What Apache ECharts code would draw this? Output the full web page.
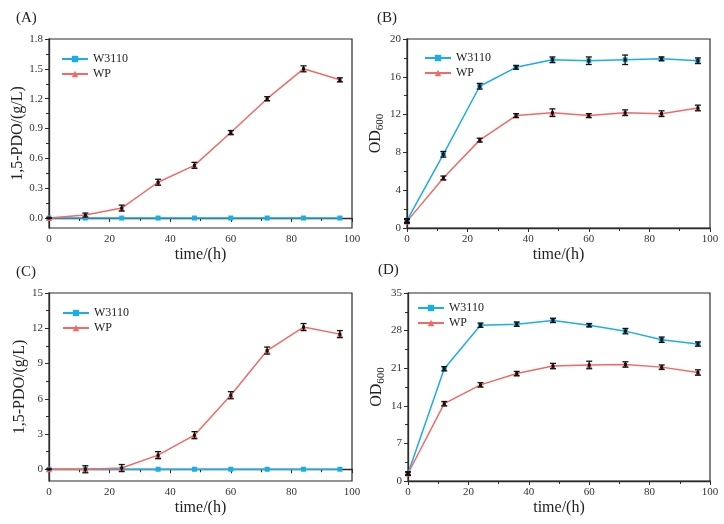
<!DOCTYPE html>
<html>
<head>
<meta charset="utf-8">
<script src="https://cdn.jsdelivr.net/npm/echarts@6/dist/echarts.min.js"></script>
<style>
    html, body { margin: 0; padding: 0; background: #fff; }
    #chart { width: 724px; height: 524px; }
</style>
</head>
<body>
<div id="chart"></div>
<script>
// sampling times (h)
const hours = [0, 12, 24, 36, 48, 60, 72, 84, 96]
const strains = ['W3110', 'WP']

// (A) 1,5-PDO in shake flask
const pdoA_W3110 = [0, 0, 0, 0, 0, 0, 0, 0, 0]
const pdoA_WP = [0, 0.03, 0.10, 0.36, 0.53, 0.86, 1.20, 1.50, 1.39]
const errA_WP = [0, 0.02, 0.03, 0.03, 0.03, 0.02, 0.02, 0.03, 0.02]

// (B) OD600 in shake flask
const odB_W3110 = [0.8, 7.8, 15.0, 17.0, 17.8, 17.7, 17.8, 17.9, 17.7]
const odB_WP = [0.7, 5.3, 9.3, 11.9, 12.2, 11.9, 12.2, 12.1, 12.7]
const errB_W3110 = [0.2, 0.3, 0.3, 0.2, 0.3, 0.4, 0.5, 0.2, 0.3]
const errB_WP = [0.2, 0.2, 0.2, 0.2, 0.4, 0.2, 0.3, 0.3, 0.3]

// (C) 1,5-PDO in fermenter
const pdoC_W3110 = [0, 0, 0, 0, 0, 0, 0, 0, 0]
const pdoC_WP = [0, 0, 0.1, 1.2, 2.9, 6.3, 10.1, 12.1, 11.5]
const errC_WP = [0, 0.3, 0.3, 0.3, 0.3, 0.3, 0.3, 0.3, 0.3]

// (D) OD600 in fermenter
const odD_W3110 = [1.4, 20.9, 29.0, 29.2, 29.9, 29.0, 27.9, 26.3, 25.5]
const odD_WP = [1.4, 14.4, 17.9, 20.0, 21.4, 21.6, 21.7, 21.2, 20.2]
const errD_W3110 = [0.3, 0.4, 0.4, 0.4, 0.4, 0.3, 0.5, 0.5, 0.4]
const errD_WP = [0.3, 0.4, 0.4, 0.4, 0.5, 0.7, 0.5, 0.4, 0.5]

// y tick labels
const ticksA = [0, 0.3, 0.6, 0.9, 1.2, 1.5, 1.8]
const ticksB = [0, 4, 8, 12, 16, 20]
const ticksC = [0, 3, 6, 9, 12, 15]
const ticksD = [0, 7, 14, 21, 28, 35]
const panelLabels = ['(A)', '(B)', '(C)', '(D)']

const serif = "'Liberation Serif', 'Times New Roman', serif"
const blue = '#1aaee6'
const red = '#f26a64'
const axisColor = '#2b2b2b'

const grids = [
    {left: 49, top: 39, width: 303, height: 189},
    {left: 407, top: 39, width: 303, height: 189},
    {left: 49, top: 293, width: 303, height: 188},
    {left: 408, top: 293, width: 302, height: 188}
]

function xAxisFor (gi) {
    return {
        type: 'value', gridIndex: gi, min: 0, max: 100, interval: 20,
        name: 'time/(h)', nameLocation: 'middle', nameGap: 19,
        nameTextStyle: {fontFamily: serif, fontSize: 16, color: '#222'},
        axisLine: {lineStyle: {color: axisColor, width: 1.3}},
        axisTick: {length: 4, lineStyle: {color: axisColor}},
        minorTick: {show: true, splitNumber: 2, length: 3, lineStyle: {color: axisColor}},
        axisLabel: {fontFamily: serif, fontSize: 11, color: '#333', margin: 6},
        splitLine: {show: false}
    }
}

function yAxesFor (gi, min, max, ticks, name, fmt) {
    let minors = []
    for (let i = 0; i < ticks.length - 1; i++) {
        minors.push((ticks[i] + ticks[i + 1]) / 2)
    }
    let main = {
        type: 'value', gridIndex: gi, min: min, max: max, position: 'left',
        name: name, nameLocation: 'middle', nameGap: 21,
        nameTextStyle: {
            fontFamily: serif, fontSize: 16, color: '#222',
            rich: {
                b: {fontFamily: serif, fontSize: 16, color: '#222'},
                s: {fontFamily: serif, fontSize: 11, color: '#222', padding: [9, 0, 0, 0]}
            }
        },
        axisLine: {lineStyle: {color: axisColor, width: 1.3}},
        axisTick: {length: 4, customValues: ticks, lineStyle: {color: axisColor}},
        axisLabel: {
            fontFamily: serif, fontSize: 11, color: '#333', margin: 6,
            customValues: ticks, formatter: fmt
        },
        splitLine: {show: false}
    }
    // second axis on the same side, only for the half-step ticks
    let minor = {
        type: 'value', gridIndex: gi, min: min, max: max, position: 'left', offset: 0,
        axisLine: {show: false},
        axisTick: {length: 3, customValues: minors, lineStyle: {color: axisColor}},
        axisLabel: {show: false},
        splitLine: {show: false}
    }
    return [main, minor]
}

function lineSeries (name, axisIdx, values, color, symbol) {
    return {
        name: name, type: 'line', xAxisIndex: axisIdx, yAxisIndex: axisIdx * 2,
        data: hours.map((h, i) => [h, values[i]]),
        symbol: symbol, symbolSize: symbol === 'rect' ? 5 : 6,
        lineStyle: {color: color, width: 1.5},
        itemStyle: {color: color},
        z: name === 'WP' ? 4 : 3
    }
}

function errorSeries (axisIdx, values, errs) {
    return {
        type: 'custom', xAxisIndex: axisIdx, yAxisIndex: axisIdx * 2,
        data: hours.map((h, i) => [h, values[i] - errs[i], values[i] + errs[i]]),
        renderItem: function (params, api) {
            let lo = api.coord([api.value(0), api.value(1)])
            let hi = api.coord([api.value(0), api.value(2)])
            let w = 3
            let style = {stroke: '#111', lineWidth: 1.3}
            return {
                type: 'group',
                children: [
                    {type: 'line', shape: {x1: lo[0], y1: lo[1], x2: hi[0], y2: hi[1]}, style: style},
                    {type: 'line', shape: {x1: lo[0] - w, y1: lo[1], x2: lo[0] + w, y2: lo[1]}, style: style},
                    {type: 'line', shape: {x1: hi[0] - w, y1: hi[1], x2: hi[0] + w, y2: hi[1]}, style: style},
                    {type: 'rect', shape: {x: lo[0] - 1.5, y: (lo[1] + hi[1]) / 2 - 1.5, width: 3, height: 3}, style: {fill: '#111'}}
                ]
            }
        },
        z: 5, silent: true
    }
}

function legendFor (left, top) {
    return {
        data: strains, left: left, top: top, orient: 'vertical',
        itemWidth: 26, itemHeight: 8, itemGap: 3,
        textStyle: {fontFamily: serif, fontSize: 12, color: '#222'}
    }
}

let chart = echarts.init(document.getElementById('chart'))

let yAxes = []
    .concat(yAxesFor(0, -0.1, 1.8, ticksA, '1,5-PDO/(g/L)', v => v.toFixed(1)))
    .concat(yAxesFor(1, 0, 20, ticksB, '{b|OD}{s|600}', v => v))
    .concat(yAxesFor(2, -1, 15, ticksC, '1,5-PDO/(g/L)', v => v))
    .concat(yAxesFor(3, 0, 35, ticksD, '{b|OD}{s|600}', v => v))

chart.setOption({
    animation: false,
    backgroundColor: '#fff',
    title: panelLabels.map((t, i) => ({
        text: t,
        left: [11, 372, 11, 373][i],
        top: [6, 6, 260, 258][i],
        textStyle: {fontFamily: serif, fontSize: 15, fontWeight: 'normal', color: '#222'}
    })),
    grid: grids.map(g => Object.assign({show: true, borderColor: axisColor, borderWidth: 1.2}, g)),
    xAxis: [0, 1, 2, 3].map(xAxisFor),
    yAxis: yAxes,
    legend: [
        legendFor(56, 48),
        legendFor(419, 47),
        legendFor(57, 302),
        legendFor(412, 297)
    ],
    series: [
        lineSeries('W3110', 0, pdoA_W3110, blue, 'rect'),
        lineSeries('WP', 0, pdoA_WP, red, 'triangle'),
        errorSeries(0, pdoA_WP, errA_WP),

        lineSeries('W3110', 1, odB_W3110, blue, 'rect'),
        lineSeries('WP', 1, odB_WP, red, 'triangle'),
        errorSeries(1, odB_W3110, errB_W3110),
        errorSeries(1, odB_WP, errB_WP),

        lineSeries('W3110', 2, pdoC_W3110, blue, 'rect'),
        lineSeries('WP', 2, pdoC_WP, red, 'triangle'),
        errorSeries(2, pdoC_WP, errC_WP),

        lineSeries('W3110', 3, odD_W3110, blue, 'rect'),
        lineSeries('WP', 3, odD_WP, red, 'triangle'),
        errorSeries(3, odD_W3110, errD_W3110),
        errorSeries(3, odD_WP, errD_WP)
    ]
})
</script>
</body>
</html>
